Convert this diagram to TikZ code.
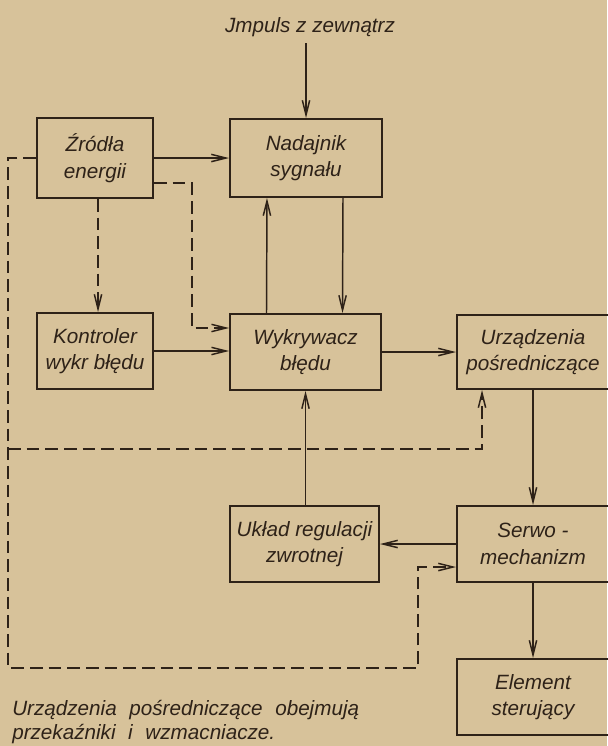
\documentclass[tikz,border=0pt]{standalone}
\usepackage{fontspec}
\setmainfont{Liberation Sans}
\newfontfamily\capfont[WordSpace=2.2]{Liberation Sans}
\usetikzlibrary{arrows.meta,calc}
\definecolor{paper}{HTML}{D7C29A}
\definecolor{ink}{HTML}{2E2218}
\begin{document}
\begin{tikzpicture}[x=0.75pt,y=-0.75pt,
  font=\fontsize{15.5}{20}\selectfont\itshape,
  box/.style={draw=ink, line width=1.5pt, align=center, text=ink, inner sep=0pt,
    minimum width=114pt, minimum height=57pt},
  conn/.style={draw=ink, line width=1.1pt},
  tip/.style={-{Straight Barb[length=11pt,width=5.5pt]}},
  arr/.style={conn, tip},
  dline/.style={conn, dash pattern=on 9.5pt off 4.5pt},
  darr/.style={dline, tip}]
\useasboundingbox (0,0) rectangle (607,746);
\fill[paper] (0,0) rectangle (607,746);

% boxes
\node[box, minimum width=87pt, minimum height=60pt] (zr) at (95,158) {Źródła\\energii};
\node[box, minimum height=58.5pt] (nad) at (306,158) {Nadajnik\\sygnału};
\node[box, minimum width=87pt] (kon) at (95,351) {Kontroler\\wykr błędu};
\node[box, minimum width=113pt] (wyk) at (305.5,352) {Wykrywacz\\błędu};
\node[box, minimum height=55.5pt] (urz) at (533,352) {Urządzenia\\pośredniczące};
\node[box, minimum width=111.75pt] (ukl) at (304.5,544) {Układ regulacji\\zwrotnej};
\node[box] (serwo) at (533,544) {Serwo -\\mechanizm};
\node[box] (el) at (533,697) {Element\\sterujący};

% texts
\node[text=ink, inner sep=0pt, anchor=base] (imp) at (310,32) {Jmpuls z zewnątrz};
\node[text=ink, inner sep=0pt, anchor=base west, align=left,
  font=\capfont\fontsize{15.5}{18}\selectfont\itshape] (cap) at (12,739)
  {Urządzenia pośredniczące obejmują\\przekaźniki i wzmacniacze.};

% helper coordinates
\coordinate (cL) at (8,0);
\coordinate (cB) at (0,668);
\coordinate (cX) at (418,0);
\coordinate (cS) at (0,567);
\coordinate (cM) at (0,449);
\coordinate (cU) at (482,0);
\coordinate (cD) at (192,0);
\coordinate (cE) at (0,183);
\coordinate (cF) at (0,328);
\coordinate (cT) at (0,43);

% solid connectors
\draw[arr] (nad.north |- cT) -- (nad.north);
\draw[arr] (zr.east) -- (nad.west);
\draw[arr] (kon.east) -- (kon.east -| wyk.west);
\draw[arr] ([xshift=-29.25pt]wyk.north) -- ([xshift=-29.25pt]nad.south);
\draw[arr] ([xshift=27.75pt]nad.south) -- ([xshift=27.75pt]wyk.north);
\draw[arr] (wyk.east) -- (wyk.east -| urz.west);
\draw[arr] (urz.south) -- (serwo.north);
\draw[arr] (serwo.west) -- (ukl.east);
\draw[arr] (wyk.south |- ukl.north) -- (wyk.south);
\draw[arr] (serwo.south) -- (el.north);

% dashed connectors
\draw[darr] (zr.west) -- (zr.west -| cL) -- (cL |- cB) -- (cX |- cB) -- (cX |- cS) -- (serwo.west |- cS);
\draw[darr] (cL |- cM) -- (cU |- cM) -- (urz.south -| cU);
\draw[darr] (zr.east |- cE) -- (cD |- cE) -- (cD |- cF) -- (wyk.west |- cF);
\draw[darr] ([xshift=2.25pt]zr.south) -- ([xshift=2.25pt]kon.north);
\end{tikzpicture}
\end{document}
